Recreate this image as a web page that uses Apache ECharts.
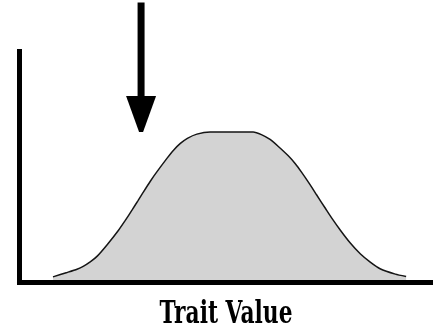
<!DOCTYPE html>
<html>
<head>
<meta charset="utf-8">
<style>
  html, body { margin: 0; padding: 0; background: #fff; }
  #chart { width: 433px; height: 334px; }
</style>
<script src="https://cdn.jsdelivr.net/npm/echarts@6/dist/echarts.min.js"></script>
</head>
<body>
<div id="chart"></div>
<script>
// Trait values along the x axis (0–100) and relative frequency of each (0–100)
const traitValues = [8.1, 11.5, 13.9, 15.4, 17.1, 18.8, 21.2, 23.9, 25.5, 27.2, 28.7, 29.9,
  31.6, 33.3, 35.7, 37.2, 38.9, 40.6, 42.9, 46.1, 56.5, 58.5, 60.6, 62.6, 65.0, 66.7, 68.2,
  69.9, 71.8, 74.0, 75.4, 77.6, 80.0, 82.4, 84.9, 87.2, 90.9, 93.5];
const frequency = [2.4, 4.3, 5.7, 6.9, 8.8, 11.3, 16.2, 22.3, 26.4, 31.0, 35.2, 38.6,
  43.3, 47.6, 53.3, 56.6, 59.6, 61.8, 63.6, 64.5, 64.5, 63.4, 61.3, 58.3, 54.3, 50.9, 47.3,
  42.9, 37.7, 31.7, 27.9, 22.4, 16.9, 12.3, 8.6, 5.9, 3.6, 2.6];

// Selection point marked by the arrow: trait value, arrow top, arrow tip
const selectionArrow = [[29.4, 120, 64.5]];

// Extent of the frequency axis line
const axisExtent = [0, 99];
const axisTitle = 'Trait Value';

const curve = traitValues.map((x, i) => [x, frequency[i]]);

const chart = echarts.init(document.getElementById('chart'), null, { renderer: 'canvas' });

chart.setOption({
  animation: false,
  backgroundColor: '#ffffff',
  grid: { left: 19.5, right: 0, top: 2.5, bottom: 51.5, outerBoundsMode: 'none' },
  xAxis: {
    type: 'value', min: 0, max: 100, z: 5,
    axisLine: { show: true, lineStyle: { color: '#000', width: 5 } },
    axisTick: { show: false }, axisLabel: { show: false }, splitLine: { show: false }
  },
  yAxis: {
    type: 'value', min: 0, max: 120,
    axisLine: { show: false }, axisTick: { show: false },
    axisLabel: { show: false }, splitLine: { show: false }
  },
  series: [
    {
      type: 'line',
      data: curve,
      smooth: 0.2,
      showSymbol: false,
      z: 2,
      lineStyle: { color: '#151515', width: 1.5 },
      areaStyle: { color: '#d3d3d3', opacity: 1 },
      markLine: {
        silent: true,
        symbol: 'none',
        label: { show: false },
        lineStyle: { color: '#000', width: 5, type: 'solid', cap: 'square' },
        data: [[{ coord: [0, axisExtent[0]] }, { coord: [0, axisExtent[1]] }]]
      }
    },
    {
      type: 'custom',
      data: selectionArrow,
      encode: { x: 0, y: [1, 2] },
      clip: false,
      z: 6,
      renderItem: function (params, api) {
        const top = api.coord([api.value(0), api.value(1)]);
        const tip = api.coord([api.value(0), api.value(2)]);
        const headLen = 36, headHalf = 15, shaftHalf = 3.5, tipHalf = 2;
        const cx = top[0];
        return {
          type: 'group',
          children: [
            {
              type: 'rect',
              shape: { x: cx - shaftHalf, y: top[1], width: shaftHalf * 2, height: tip[1] - headLen - top[1] + 1 },
              style: { fill: '#000' }
            },
            {
              type: 'polygon',
              shape: { points: [
                [cx - headHalf, tip[1] - headLen], [cx + headHalf, tip[1] - headLen],
                [cx + tipHalf, tip[1]], [cx - tipHalf, tip[1]]
              ] },
              style: { fill: '#000' }
            }
          ]
        };
      }
    }
  ],
  graphic: [
    {
      type: 'text',
      x: 226, y: 315,
      scaleX: 0.68,
      style: {
        text: axisTitle,
        font: 'bold 32px "DejaVu Serif"',
        fill: '#000',
        align: 'center',
        verticalAlign: 'middle'
      }
    }
  ]
});
</script>
</body>
</html>
